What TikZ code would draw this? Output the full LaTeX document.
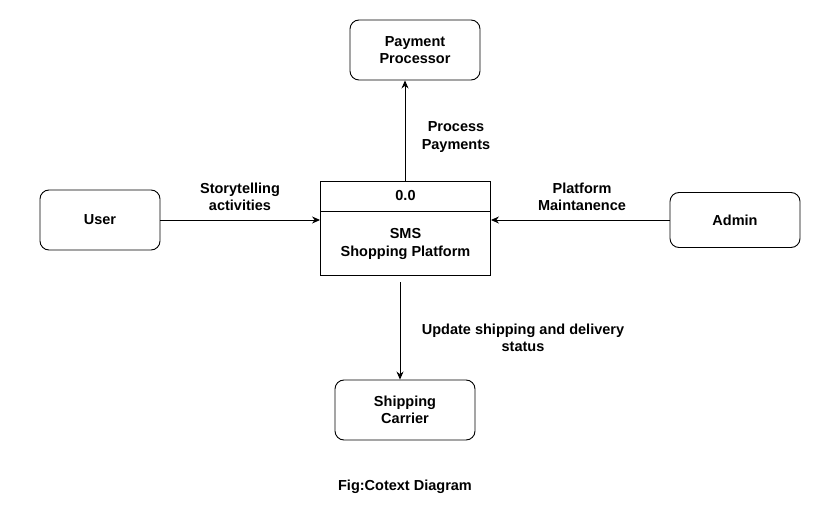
\documentclass[tikz,border=0pt]{standalone}
\usepackage{fontspec}
\setmainfont{Liberation Sans}
\usetikzlibrary{arrows.meta,positioning}

\begin{document}
\begin{tikzpicture}[x=1pt, y=-1pt,
  entity/.style={draw, line width=0.9pt, rounded corners=9pt, minimum height=60pt, align=center},
  procpart/.style={draw, line width=0.9pt, minimum width=170pt, align=center},
  flow/.style={line width=0.9pt, -{Stealth[length=8pt, width=7pt]}},
  flowlabel/.style={align=center},
  every node/.style={font=\bfseries\fontsize{14.5}{17.5}\selectfont}
]
\useasboundingbox (0,0) rectangle (830,513);

% Central process (0.0)
\node[procpart, minimum height=30pt] (smsid) at (405.5,196) {0.0};
\node[procpart, minimum height=64pt, below=0pt of smsid] (sms) {SMS\\Shopping Platform};

% External entities
\node[entity, minimum width=130pt] (payment) at (415,50) {Payment\\Processor};
\node[entity, minimum width=120pt] (user) at (100,220) {User};
\node[entity, minimum width=130pt, minimum height=55pt] (admin) at (735,220) {Admin};
\node[entity, minimum width=140pt] (carrier) at (405,410) {Shipping\\Carrier};

% Data flows
\draw[flow] (user.east) -- (user.east -| sms.west);
\draw[flow] (admin.west) -- (admin.west -| sms.east);
\draw[flow] (smsid.north -| 405,0) -- (payment.south -| 405,0);
\coordinate (shipstart) at (400,282);
\draw[flow] (shipstart) -- (shipstart |- carrier.north);

% Labels
\node[flowlabel] (storylbl) at (240,197) {Storytelling\\activities};
\node[flowlabel] (maintlbl) at (582,197) {Platform\\Maintanence};
\node[flowlabel] (paylbl) at (456,137) {Process\\Payments};
\node[flowlabel] (shiplbl) at (523,338) {Update shipping and delivery\\status};
\node (caption) at (405,487) {Fig:Cotext Diagram};

\end{tikzpicture}
\end{document}
